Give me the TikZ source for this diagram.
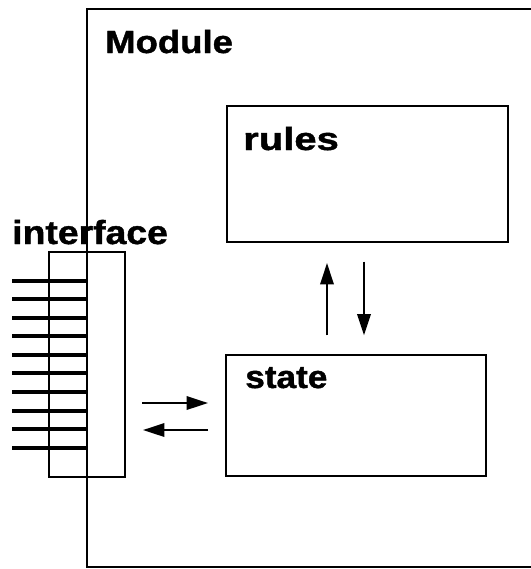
\documentclass[tikz,border=0pt]{standalone}
\usepackage{fontspec}
\setmainfont{Liberation Sans}
\newfontfamily\heavy[UprightFeatures={FakeBold=1.2}]{Liberation Sans Bold}
\usetikzlibrary{arrows.meta,calc}
\begin{document}
\begin{tikzpicture}[x=0.75pt,y=-0.75pt,
  box/.style={draw,line width=1.5pt,inner sep=0pt},
  lbl/.style={inner sep=0pt,anchor=base west,font=\fontsize{24}{27}\heavy},
  pin/.style={line width=3pt},
  arr/.style={line width=1.8pt,-{Triangle[length=16pt,width=10pt]}}]
\useasboundingbox (0,0) rectangle (531,569);
% module frame
\coordinate (mtr) at (531,9);
\coordinate (mtl) at (87,9);
\coordinate (mbl) at (87,567);
\coordinate (mbr) at (531,567);
\draw[line width=1.5pt] (mtr) -- (mtl) -- (mbl) -- (mbr);
\node[lbl] (module) at (105,53) {\scalebox{1.14}[1]{Module}};
% boxes
\node[box,minimum width=210.75pt,minimum height=102pt] (rules) at (367.5,174) {};
\node[lbl] (ruleslbl) at (243,150) {\scalebox{1.25}[1]{rules}};
\node[box,minimum width=195pt,minimum height=90.75pt] (state) at (356,415.5) {};
\node[lbl] (statelbl) at (245,388) {\scalebox{1.1}[1]{state}};
\node[box,minimum width=57pt,minimum height=168.75pt] (iface) at (87,364.5) {};
\node[lbl,font=\fontsize{25}{28}\heavy] (ifacelbl) at (12,244) {\scalebox{1.12}[1]{interface}};
% pins
\foreach \y [count=\i] in {281,299,318,336,355,373,392,411,429,448}{
  \coordinate (p\i a) at (12,\y);
  \coordinate (p\i b) at (87,\y);
  \draw[pin] (p\i a) -- (p\i b);
}
% arrows interface <-> state
\coordinate (h1a) at (142,403);
\coordinate (h1b) at (208,403);
\coordinate (h2a) at (208,430);
\coordinate (h2b) at (143,430);
\draw[arr] (h1a) -- (h1b);
\draw[arr] (h2a) -- (h2b);
% arrows state <-> rules
\draw[arr,shorten <=14pt,shorten >=15pt] ($(state.north west)+(102,0)$) -- ($(rules.south west)+(101,0)$);
\draw[arr,shorten <=14pt,shorten >=14pt] ($(rules.south west)+(138,0)$) -- ($(state.north west)+(139,0)$);
\end{tikzpicture}
\end{document}
